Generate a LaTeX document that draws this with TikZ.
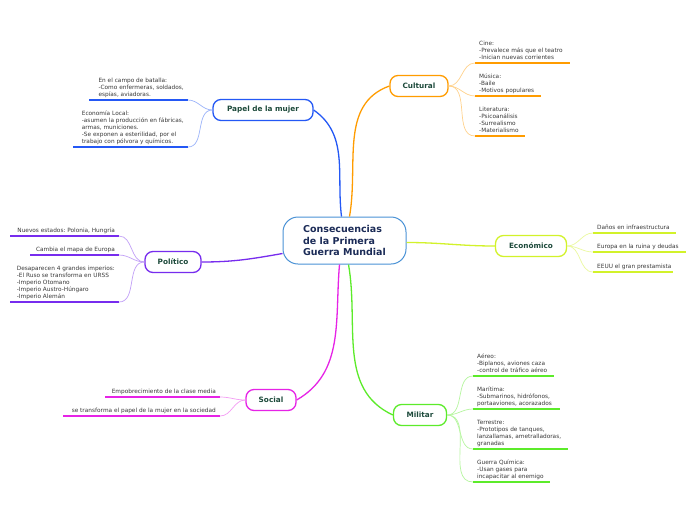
\documentclass[tikz,border=0pt]{standalone}
\usepackage{fontspec}
\setmainfont{DejaVu Sans}
\usetikzlibrary{positioning}
\definecolor{cborde}{HTML}{4A92D6}
\definecolor{ctexto}{HTML}{1B2B57}
\definecolor{ttexto}{HTML}{1D4A3B}
\definecolor{stexto}{HTML}{3A3A3A}
\definecolor{azul}{HTML}{2458F5}
\definecolor{naranja}{HTML}{FF9C00}
\definecolor{lima}{HTML}{D2F22A}
\definecolor{verde}{HTML}{5CEB2A}
\definecolor{fucsia}{HTML}{E623E6}
\definecolor{morado}{HTML}{772CEE}
\tikzset{
  centro/.style={draw=cborde, line width=1pt, fill=white, rounded corners=15pt, minimum width=123pt, minimum height=47pt, align=left, text=ctexto, font=\fontsize{9.5}{11.5}\selectfont\bfseries},
  tema/.style={draw=#1, line width=1.3pt, fill=white, rounded corners=8pt, minimum height=21pt, text=ttexto, font=\fontsize{7.3}{8}\selectfont\bfseries},
  sub/.style={align=left, inner xsep=4pt, inner ysep=2pt, text depth=1.4pt, text=stexto, font=\fontsize{5.8}{7}\selectfont\frenchspacing},
  rama/.style={draw=#1, line width=1.3pt},
  enlace/.style={draw=#1!45, line width=0.7pt},
  linea/.style={draw=#1, line width=1.8pt}
}

\begin{document}
\begin{tikzpicture}[x=1pt, y=-1pt]
  \fill[white] (0,0) rectangle (696,520);
  \useasboundingbox (0,0) rectangle (696,520);

  \node[centro] (cen) at (344.5,240.5) {Consecuencias\\de la Primera\\Guerra Mundial};
  \node[tema=azul, minimum width=100pt] (pap) at (263,110) {Papel de la mujer};
  \node[tema=naranja, minimum width=58pt] (cul) at (419,86) {Cultural};
  \node[tema=lima, minimum width=71pt] (eco) at (531,246) {Económico};
  \node[tema=verde, minimum width=53pt] (mil) at (420,415) {Militar};
  \node[tema=fucsia, minimum width=50pt] (soc) at (271,400) {Social};
  \node[tema=morado, minimum width=56pt] (pol) at (173,262) {Político};

  % ramas principales
  \draw[rama=azul] ([xshift=-3pt]cen.north) to[out=97,in=-35] (pap.east);
  \draw[rama=naranja] ([xshift=5pt]cen.north) to[out=80,in=200] (cul.west);
  \draw[rama=lima] ([yshift=-2pt]cen.east) to[out=0,in=180] (eco.west);
  \draw[rama=verde] ([xshift=4pt]cen.south) to[out=-80,in=155] (mil.west);
  \draw[rama=fucsia] ([xshift=-5pt]cen.south) to[out=-95,in=30] (soc.east);
  \draw[rama=morado] ([yshift=-13pt]cen.west) to[out=190,in=0] (pol.east);

  % Cultural
  \node[sub, anchor=south west] (cine) at (475,63) {Cine:\\-Prevalece más que el teatro\\-Inician nuevas corrientes};
  \node[sub, anchor=south west] (musica) at (475,96) {Música:\\-Baile\\-Motivos populares};
  \node[sub, anchor=south west] (lite) at (475,136) {Literatura:\\-Psicoanálisis\\-Surrealismo\\-Materialismo};
  \draw[linea=naranja] (cine.south west) -- ++(95,0);
  \draw[linea=naranja] (musica.south west) -- ++(66,0);
  \draw[linea=naranja] (lite.south west) -- ++(50,0);
  \draw[enlace=naranja] (cul.east) to[out=0,in=180] (cine.south west);
  \draw[enlace=naranja] (cul.east) to[out=0,in=180] (musica.south west);
  \draw[enlace=naranja] (cul.east) to[out=0,in=180] (lite.south west);

  % Economico
  \node[sub, anchor=south west] (danos) at (593,233) {Daños en infraestructura};
  \node[sub, anchor=south west] (europa) at (593,252) {Europa en la ruina y deudas};
  \node[sub, anchor=south west] (eeuu) at (593,272) {EEUU el gran prestamista};
  \draw[linea=lima] (danos.south west) -- ++(83,0);
  \draw[linea=lima] (europa.south west) -- ++(93,0);
  \draw[linea=lima] (eeuu.south west) -- ++(80,0);
  \draw[enlace=lima] (eco.east) to[out=0,in=180] (danos.south west);
  \draw[enlace=lima] (eco.east) to[out=0,in=180] (europa.south west);
  \draw[enlace=lima] (eco.east) to[out=0,in=180] (eeuu.south west);

  % Militar
  \node[sub, anchor=south west] (aereo) at (473,376) {Aéreo:\\-Biplanos, aviones caza\\-control de tráfico aéreo};
  \node[sub, anchor=south west] (maritima) at (473,409) {Marítima:\\-Submarinos, hidrófonos,\\portaaviones, acorazados};
  \node[sub, anchor=south west] (terrestre) at (473,449) {Terrestre:\\-Prototipos de tanques,\\lanzallamas, ametralladoras,\\granadas};
  \node[sub, anchor=south west] (quimica) at (473,482) {Guerra Química:\\-Usan gases para\\incapacitar al enemigo};
  \draw[linea=verde] (aereo.south west) -- ++(81,0);
  \draw[linea=verde] (maritima.south west) -- ++(87,0);
  \draw[linea=verde] (terrestre.south west) -- ++(95,0);
  \draw[linea=verde] (quimica.south west) -- ++(77,0);
  \draw[enlace=verde] (mil.east) to[out=0,in=180] (aereo.south west);
  \draw[enlace=verde] (mil.east) to[out=0,in=180] (maritima.south west);
  \draw[enlace=verde] (mil.east) to[out=0,in=180] (terrestre.south west);
  \draw[enlace=verde] (mil.east) to[out=0,in=180] (quimica.south west);

  % Papel de la mujer
  \node[sub, anchor=south east] (campo) at (188,100) {En el campo de batalla:\\-Como enfermeras, soldados,\\espías, aviadoras.};
  \node[sub, anchor=south east] (ecoloc) at (188,147) {Economía Local:\\-asumen la producción en fábricas,\\armas, municiones.\\-Se exponen a esterilidad, por el\\trabajo con pólvora y químicos.};
  \draw[linea=azul] (campo.south east) -- ++(-99,0);
  \draw[linea=azul] (ecoloc.south east) -- ++(-115,0);
  \draw[enlace=azul] (pap.west) to[out=180,in=0] (campo.south east);
  \draw[enlace=azul] (pap.west) to[out=180,in=0] (ecoloc.south east);

  % Politico
  \node[sub, anchor=south east] (nuevos) at (119,236) {Nuevos estados: Polonia, Hungría};
  \node[sub, anchor=south east] (mapa) at (119,255) {Cambia el mapa de Europa};
  \node[sub, anchor=south east] (imperios) at (119,302) {Desaparecen 4 grandes imperios:\\-El Ruso se transforma en URSS\\-Imperio Otomano\\-Imperio Austro-Húngaro\\-Imperio Alemán};
  \draw[linea=morado] (nuevos.south east) -- ++(-109,0);
  \draw[linea=morado] (mapa.south east) -- ++(-89,0);
  \draw[linea=morado] (imperios.south east) -- ++(-109,0);
  \draw[enlace=morado] (pol.west) to[out=180,in=0] (nuevos.south east);
  \draw[enlace=morado] (pol.west) to[out=180,in=0] (mapa.south east);
  \draw[enlace=morado] (pol.west) to[out=180,in=0] (imperios.south east);

  % Social
  \node[sub, anchor=south east] (pobreza) at (220,397) {Empobrecimiento de la clase media};
  \node[sub, anchor=south east] (rolmujer) at (220,416) {se transforma el papel de la mujer en la sociedad};
  \draw[linea=fucsia] (pobreza.south east) -- ++(-115,0);
  \draw[linea=fucsia] (rolmujer.south east) -- ++(-157,0);
  \draw[enlace=fucsia] (soc.west) to[out=180,in=0] (pobreza.south east);
  \draw[enlace=fucsia] (soc.west) to[out=180,in=0] (rolmujer.south east);
\end{tikzpicture}
\end{document}
